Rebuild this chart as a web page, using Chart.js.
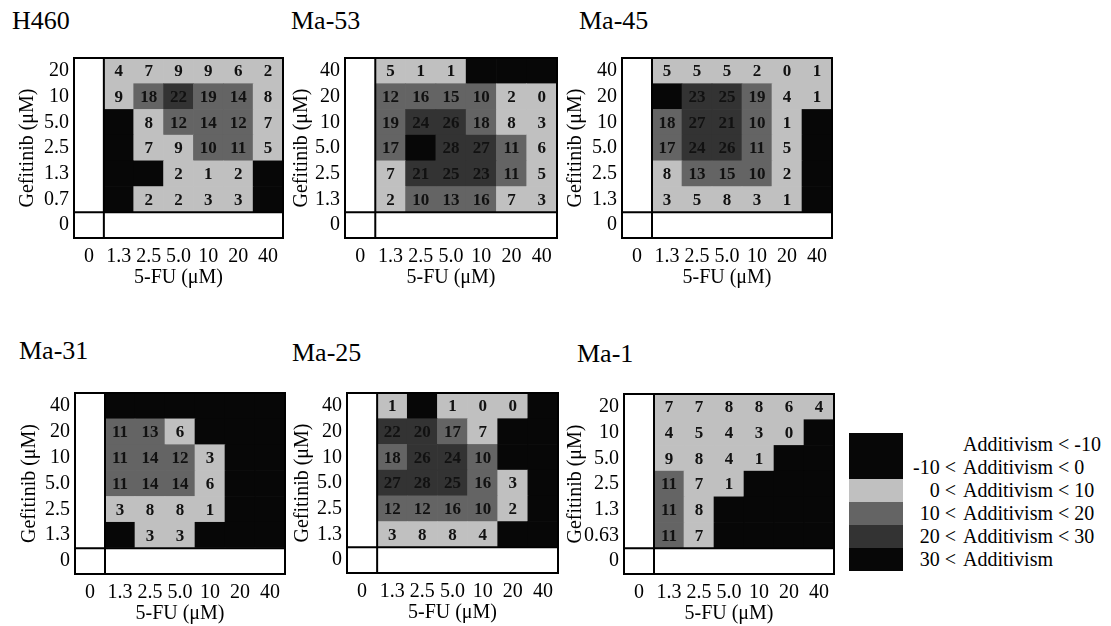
<!DOCTYPE html>
<html>
<head>
<meta charset="utf-8">
<script src="https://cdn.jsdelivr.net/npm/chart.js@4.4.0/dist/chart.umd.min.js"></script>
<style>
  body { margin: 0; background: #fff; width: 1111px; height: 626px; position: relative; overflow: hidden;
         font-family: "Liberation Serif", "Times New Roman", serif; color: #000; }
  canvas { position: absolute; }
  .head { position: absolute; font-size: 26px; line-height: 1; white-space: nowrap; }
  .legend-box { position: absolute; left: 849px; top: 433px; width: 54px; }
  .legend-box div { height: 23px; }
  .legend-line { position: absolute; left: 905px; width: 202px; height: 23px; font-size: 20px; line-height: 23px; white-space: nowrap; }
  .legend-line span { position: absolute; top: 0; }
  .legend-line .pre { right: 151px; }
  .legend-line .mid { left: 58px; }
</style>
</head>
<body>
<script>
// 5-FU concentrations (columns), same for every panel
const fuLabels = ['0', '1.3', '2.5', '5.0', '10', '20', '40'];

// Additivism values, rows listed top to bottom, columns 1.3 ... 40
// (black cells carry no printed number; their values are estimates)
const h460Rows = ['20', '10', '5.0', '2.5', '1.3', '0.7'];
const h460Values = [
  [4, 7, 9, 9, 6, 2],
  [9, 18, 22, 19, 14, 8],
  [-6, 8, 12, 14, 12, 7],
  [-8, 7, 9, 10, 11, 5],
  [-7, -3, 2, 1, 2, -4],
  [-9, 2, 2, 3, 3, -5]
];

const ma53Rows = ['40', '20', '10', '5.0', '2.5', '1.3'];
const ma53Values = [
  [5, 1, 1, -1, -3, -2],
  [12, 16, 15, 10, 2, 0],
  [19, 24, 26, 18, 8, 3],
  [17, 33, 28, 27, 11, 6],
  [7, 21, 25, 23, 11, 5],
  [2, 10, 13, 16, 7, 3]
];

const ma45Rows = ['40', '20', '10', '5.0', '2.5', '1.3'];
const ma45Values = [
  [5, 5, 5, 2, 0, 1],
  [-3, 23, 25, 19, 4, 1],
  [18, 27, 21, 10, 1, -2],
  [17, 24, 26, 11, 5, -4],
  [8, 13, 15, 10, 2, -3],
  [3, 5, 8, 3, 1, -5]
];

const ma31Rows = ['40', '20', '10', '5.0', '2.5', '1.3'];
const ma31Values = [
  [-4, -6, -5, -8, -12, -15],
  [11, 13, 6, -2, -9, -13],
  [11, 14, 12, 3, -7, -11],
  [11, 14, 14, 6, -5, -10],
  [3, 8, 8, 1, -6, -12],
  [-2, 3, 3, -3, -8, -14]
];

const ma25Rows = ['40', '20', '10', '5.0', '2.5', '1.3'];
const ma25Values = [
  [1, -1, 1, 0, 0, -6],
  [22, 20, 17, 7, -3, -8],
  [18, 26, 24, 10, -2, -7],
  [27, 28, 25, 16, 3, -5],
  [12, 12, 16, 10, 2, -4],
  [3, 8, 8, 4, -2, -6]
];

const ma1Rows = ['20', '10', '5.0', '2.5', '1.3', '0.63'];
const ma1Values = [
  [7, 7, 8, 8, 6, 4],
  [4, 5, 4, 3, 0, -3],
  [9, 8, 4, 1, -2, -6],
  [11, 7, 1, -3, -7, -10],
  [11, 8, -2, -5, -9, -12],
  [11, 7, -1, -4, -8, -13]
];

// legend classes
const legendLow = [null, -10, 0, 10, 20, 30];
const legendHigh = [-10, 0, 10, 20, 30, null];

const BLACK = '#070707';
const LIGHT = '#c0c0c0';
const MEDIUM = '#646464';
const DARK = '#333333';
const legendColors = [BLACK, BLACK, LIGHT, MEDIUM, DARK, BLACK];

function cellColor(v) {
  if (v === null) return '#ffffff';
  if (v < 0 || v >= 30) return BLACK;
  if (v < 10) return LIGHT;
  if (v < 20) return MEDIUM;
  return DARK;
}

// frame = [left, top, right, bottom] of the grid, axisX = centre of the y title
const panels = [
  { name: 'H460', rows: h460Rows, values: h460Values, frame: [74, 47, 283, 238], axisX: 28, headX: 12, headY: 8 },
  { name: 'Ma-53', rows: ma53Rows, values: ma53Values, frame: [345, 47, 557, 238], axisX: 302, headX: 291, headY: 8 },
  { name: 'Ma-45', rows: ma45Rows, values: ma45Values, frame: [622, 47, 832, 238], axisX: 576, headX: 579, headY: 8 },
  { name: 'Ma-31', rows: ma31Rows, values: ma31Values, frame: [75, 382, 285, 574], axisX: 30, headX: 19, headY: 338 },
  { name: 'Ma-25', rows: ma25Rows, values: ma25Values, frame: [347, 382, 558, 573], axisX: 303, headX: 292, headY: 340 },
  { name: 'Ma-1', rows: ma1Rows, values: ma1Values, frame: [624, 383, 834, 574], axisX: 576, headX: 577, headY: 341 }
];

const axisFont = { family: 'Liberation Serif', size: 20 };

// numbers inside cells + frame lines
const cellPlugin = {
  id: 'cells',
  afterDatasetsDraw(chart) {
    const ctx = chart.ctx;
    ctx.save();
    ctx.font = 'bold 17px "Liberation Serif"';
    ctx.textAlign = 'center';
    ctx.textBaseline = 'middle';
    ctx.fillStyle = '#111';
    chart.data.datasets.forEach((ds, r) => {
      chart.getDatasetMeta(r).data.forEach((bar, c) => {
        const v = ds.cellValues[c];
        if (v === null || cellColor(v) === BLACK) return;
        ctx.fillText(String(v), bar.x, (bar.y + bar.base) / 2 + 1);
      });
    });
    const a = chart.chartArea;
    const xs = chart.scales.x, ys = chart.scales.y;
    ctx.strokeStyle = '#000';
    ctx.lineWidth = 2;
    ctx.strokeRect(a.left, a.top, a.width, a.height);
    const sepX = (xs.getPixelForTick(0) + xs.getPixelForTick(1)) / 2;
    const sepY = ys.getPixelForValue(1);
    ctx.beginPath();
    ctx.moveTo(sepX, a.top); ctx.lineTo(sepX, a.bottom);
    ctx.moveTo(a.left, sepY); ctx.lineTo(a.right, sepY);
    ctx.stroke();
    ctx.restore();
  }
};

function makePanel(p) {
  const [L, T, R, B] = p.frame;
  const left = p.axisX - 15;
  const top = T - 6;
  const w = R - left + 6;
  const xAxisH = 55;
  const h = B - top + xAxisH;

  const head = document.createElement('div');
  head.className = 'head';
  head.textContent = p.name;
  head.style.left = p.headX + 'px';
  head.style.top = p.headY + 'px';
  document.body.appendChild(head);

  const canvas = document.createElement('canvas');
  canvas.width = w; canvas.height = h;
  canvas.style.left = left + 'px';
  canvas.style.top = top + 'px';
  canvas.style.width = w + 'px';
  canvas.style.height = h + 'px';
  document.body.appendChild(canvas);

  // bottom to top: gefitinib 0 first
  const yLabels = ['0', ...p.rows.slice().reverse()];
  const n = p.rows.length;
  const datasets = yLabels.map((lab, r) => {
    const cells = fuLabels.map((f, c) => (r === 0 || c === 0) ? null : p.values[n - r][c - 1]);
    return {
      label: lab,
      data: cells.map(() => 1),
      cellValues: cells,
      backgroundColor: cells.map(cellColor),
      borderWidth: 0,
      barPercentage: 1,
      categoryPercentage: 1
    };
  });

  new Chart(canvas, {
    type: 'bar',
    data: { labels: fuLabels, datasets },
    options: {
      responsive: false,
      animation: false,
      layout: { padding: { top: 6, right: 6, left: 0, bottom: 0 } },
      plugins: { legend: { display: false }, tooltip: { enabled: false } },
      scales: {
        x: {
          stacked: true,
          grid: { display: false, drawTicks: false },
          border: { display: false },
          ticks: { autoSkip: false, maxRotation: 0, padding: 7, color: '#000', font: axisFont },
          title: { display: true, text: '5-FU (μM)', color: '#000', font: axisFont, padding: { top: 0, bottom: 3 } },
          afterFit: s => { s.height = xAxisH; }
        },
        y: {
          stacked: true,
          min: 0,
          max: yLabels.length,
          grid: { display: false, drawTicks: false },
          border: { display: false },
          afterBuildTicks: s => { s.ticks = yLabels.map((l, i) => ({ value: i + 0.5 })); },
          ticks: { autoSkip: false, padding: 5, color: '#000', font: axisFont, callback: (v, i) => yLabels[i] },
          title: { display: true, text: 'Gefitinib (μM)', color: '#000', font: axisFont, padding: { top: 3, bottom: 0 } },
          afterFit: s => { s.width = L - left; }
        }
      }
    },
    plugins: [cellPlugin]
  });
}

panels.forEach(makePanel);

// legend swatches
const box = document.createElement('div');
box.className = 'legend-box';
legendColors.forEach(col => {
  const d = document.createElement('div');
  d.style.background = col;
  box.appendChild(d);
});
document.body.appendChild(box);

// legend texts
legendLow.forEach((lo, i) => {
  const hi = legendHigh[i];
  const line = document.createElement('div');
  line.className = 'legend-line';
  line.style.top = (433 + i * 23) + 'px';
  const pre = document.createElement('span');
  pre.className = 'pre';
  pre.textContent = lo === null ? '' : lo + ' <';
  const mid = document.createElement('span');
  mid.className = 'mid';
  mid.textContent = 'Additivism' + (hi === null ? '' : ' < ' + hi);
  line.appendChild(pre);
  line.appendChild(mid);
  document.body.appendChild(line);
});
</script>
</body>
</html>
